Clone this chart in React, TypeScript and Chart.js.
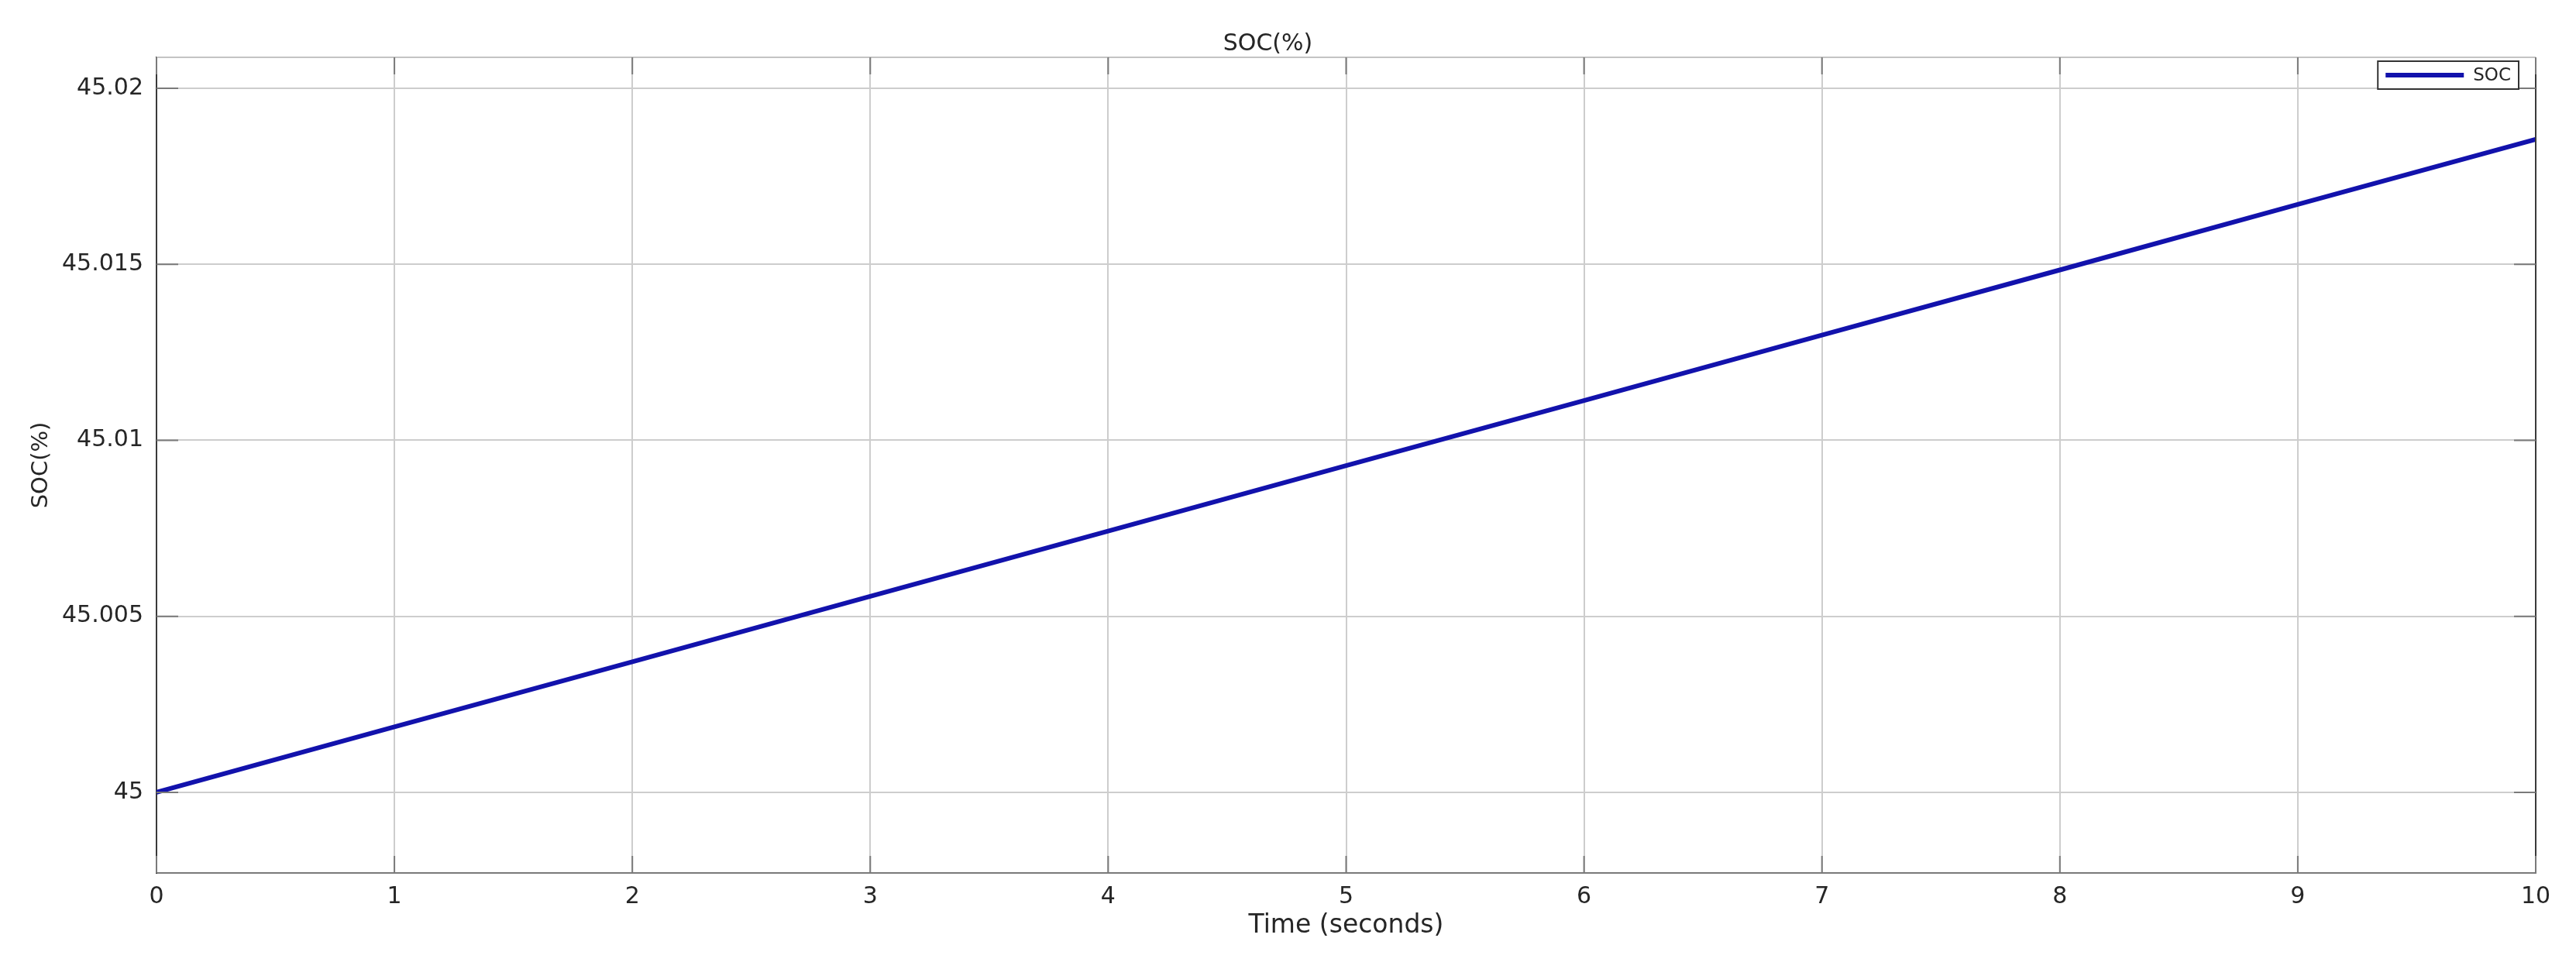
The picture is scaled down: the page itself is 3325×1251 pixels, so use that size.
import React, { useEffect, useRef } from "react";
import { Chart, registerables } from "chart.js";

Chart.register(...registerables);

// ---- data ----
const timeSeconds = [0, 1, 2, 3, 4, 5, 6, 7, 8, 9, 10];
const socValues = [45.0, 45.00186, 45.00371, 45.00557, 45.00742, 45.00928, 45.01113, 45.01299, 45.01484, 45.0167, 45.01855];
const seriesLabel = "SOC";
const chartTitle = "SOC(%)";
const xAxisLabel = "Time (seconds)";
const yAxisLabel = "SOC(%)";
const xTickValues = [0, 1, 2, 3, 4, 5, 6, 7, 8, 9, 10];
const xTickLabels = ["0", "1", "2", "3", "4", "5", "6", "7", "8", "9", "10"];
const yTickValues = [45, 45.005, 45.01, 45.015, 45.02];
const yTickLabels = ["45", "45.005", "45.01", "45.015", "45.02"];
const xRange = [0, 10];
const yRange = [44.99771, 45.02088];

const FONT = "'DejaVu Sans', 'Liberation Sans', Arial, sans-serif";
const LINE_COLOR = "#1212ac";
const AXIS_COLOR = "#262626";
const GRID_COLOR = "#cdcdcd";

const boxPlugin = {
  id: "matlabBox",
  afterDraw(chart: any) {
    const { ctx, chartArea } = chart;
    const { left, right, top, bottom } = chartArea;
    const xs = chart.scales.x;
    const ys = chart.scales.y;
    ctx.save();
    // top border (light) and right border (dark)
    ctx.lineWidth = 2;
    ctx.strokeStyle = "#c4c4c4";
    ctx.beginPath();
    ctx.moveTo(left, top);
    ctx.lineTo(right, top);
    ctx.stroke();
    ctx.strokeStyle = "#3a3a3a";
    ctx.beginPath();
    ctx.moveTo(right, top);
    ctx.lineTo(right, bottom);
    ctx.stroke();
    // inward tick marks
    ctx.strokeStyle = "#7a7a7a";
    ctx.lineWidth = 2;
    xs.ticks.forEach((t: any) => {
      const px = xs.getPixelForValue(t.value);
      ctx.beginPath();
      ctx.moveTo(px, bottom);
      ctx.lineTo(px, bottom - 22);
      ctx.moveTo(px, top);
      ctx.lineTo(px, top + 22);
      ctx.stroke();
    });
    ys.ticks.forEach((t: any) => {
      const py = ys.getPixelForValue(t.value);
      ctx.beginPath();
      ctx.moveTo(left, py);
      ctx.lineTo(left + 28, py);
      ctx.moveTo(right, py);
      ctx.lineTo(right - 28, py);
      ctx.stroke();
    });
    // legend
    const ds = chart.data.datasets[0];
    ctx.font = `23px ${FONT}`;
    const textW = ctx.measureText(ds.label).width;
    const boxRight = right - 22;
    const boxTop = top + 5;
    const boxH = 36;
    const lineLen = 101;
    const boxW = 10 + lineLen + 12 + textW + 10;
    const boxLeft = boxRight - boxW;
    ctx.fillStyle = "#ffffff";
    ctx.fillRect(boxLeft, boxTop, boxW, boxH);
    ctx.strokeStyle = "#333333";
    ctx.lineWidth = 2;
    ctx.strokeRect(boxLeft, boxTop, boxW, boxH);
    const cy = boxTop + boxH / 2;
    ctx.strokeStyle = ds.borderColor;
    ctx.lineWidth = 6;
    ctx.beginPath();
    ctx.moveTo(boxLeft + 10, cy);
    ctx.lineTo(boxLeft + 10 + lineLen, cy);
    ctx.stroke();
    ctx.fillStyle = AXIS_COLOR;
    ctx.textAlign = "left";
    ctx.textBaseline = "middle";
    ctx.fillText(ds.label, boxLeft + 10 + lineLen + 12, cy + 1);
    ctx.restore();
  },
};

export default function App() {
  const canvasRef = useRef<HTMLCanvasElement | null>(null);

  useEffect(() => {
    document.body.style.margin = "0";
    const canvas = canvasRef.current;
    if (!canvas) return;
    const chart = new Chart(canvas, {
      type: "line",
      data: {
        datasets: [
          {
            label: seriesLabel,
            data: timeSeconds.map((t, i) => ({ x: t, y: socValues[i] })),
            borderColor: LINE_COLOR,
            backgroundColor: LINE_COLOR,
            borderWidth: 6,
            pointRadius: 0,
            tension: 0,
          },
        ],
      },
      options: {
        responsive: false,
        animation: false,
        devicePixelRatio: 1,
        layout: { padding: { left: 0, right: 52, top: 0, bottom: 0 } },
        plugins: {
          legend: { display: false },
          tooltip: { enabled: false },
          title: {
            display: true,
            text: chartTitle,
            color: AXIS_COLOR,
            font: { family: FONT, size: 30, weight: "normal", lineHeight: 1 },
            padding: { top: 42, bottom: 2 },
          },
        },
        scales: {
          x: {
            type: "linear",
            min: xRange[0],
            max: xRange[1],
            afterBuildTicks: (scale: any) => {
              scale.ticks = xTickValues.map((v) => ({ value: v }));
            },
            afterFit: (scale: any) => {
              scale.height = 124;
            },
            ticks: {
              color: AXIS_COLOR,
              font: { family: FONT, size: 30 },
              padding: 13,
              maxRotation: 0,
              autoSkip: false,
              callback: (_v: any, i: number) => xTickLabels[i],
            },
            grid: { color: GRID_COLOR, lineWidth: 2, drawTicks: false },
            border: { display: true, color: "#7a7a7a", width: 2 },
            title: {
              display: true,
              text: xAxisLabel,
              color: AXIS_COLOR,
              font: { family: FONT, size: 33, lineHeight: 1.2 },
              padding: { top: 0, bottom: 36 },
            },
          },
          y: {
            type: "linear",
            min: yRange[0],
            max: yRange[1],
            afterBuildTicks: (scale: any) => {
              scale.ticks = yTickValues.map((v) => ({ value: v }));
            },
            afterFit: (scale: any) => {
              scale.width = 202;
            },
            ticks: {
              color: AXIS_COLOR,
              font: { family: FONT, size: 30 },
              padding: 17,
              autoSkip: false,
              callback: (_v: any, i: number) => yTickLabels[i],
            },
            grid: { color: GRID_COLOR, lineWidth: 2, drawTicks: false },
            border: { display: true, color: "#3a3a3a", width: 2 },
            title: {
              display: true,
              text: yAxisLabel,
              color: AXIS_COLOR,
              font: { family: FONT, size: 29, lineHeight: 1.2 },
              padding: { top: 36, bottom: 0 },
            },
          },
        },
      },
      plugins: [boxPlugin],
    } as any);
    return () => chart.destroy();
  }, []);

  return (
    <div style={{ width: 3325, height: 1251, background: "#ffffff" }}>
      <canvas
        ref={canvasRef}
        width={3325}
        height={1251}
        style={{ width: 3325, height: 1251, display: "block" }}
      />
    </div>
  );
}
